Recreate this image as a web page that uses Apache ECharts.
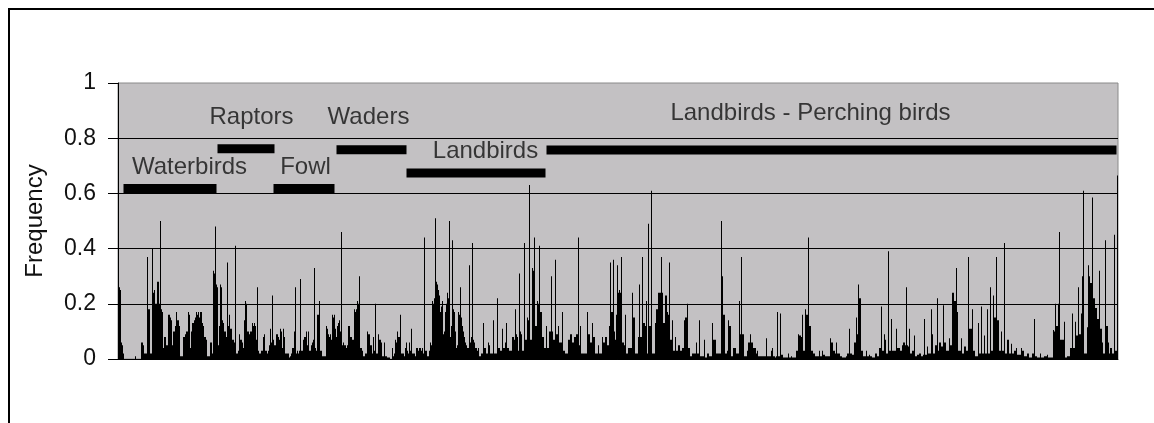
<!DOCTYPE html>
<html>
<head>
<meta charset="utf-8">
<script src="https://cdn.jsdelivr.net/npm/echarts@6/dist/echarts.min.js"></script>
<style>
html,body{margin:0;padding:0;background:#fff;}
#c{width:1154px;height:423px;}
</style>
</head>
<body>
<div id="c"></div>
<script>
// Frequency per position (one value per bar, left to right)
var freq = [
.26,.26,.25,.06,.05,.02,0,0,0,0,
0,0,0,0,0,0,0,.01,0,0,
0,0,0,.06,.06,.05,.02,.02,.02,.37,
.18,.18,.02,.02,.40,.24,.25,.20,.20,.28,
.28,.20,.50,.18,.17,.04,.08,.08,.05,.05,
.16,.16,.15,.14,.05,.10,.10,.12,.17,.14,
.14,.12,.01,.01,.01,.08,.08,.09,.10,.10,
.17,.16,.04,.10,.13,.13,.14,.15,.17,.16,
.17,.15,.17,.17,.13,.12,.08,.08,.07,.01,
.01,.01,.06,.06,.02,.32,.31,.48,.27,.26,
.05,.12,.27,.26,.14,.13,.10,.10,.08,.35,
.12,.16,.11,.11,.07,.07,.06,.41,.02,.02,
.03,.09,.07,.07,.06,.04,.14,.21,.20,.10,
.10,.09,.10,.10,.13,.12,.13,.12,.07,.26,
.03,.02,.02,.03,.03,.08,.09,.03,.03,.02,
.03,.05,.11,.06,.23,.07,.05,.05,.09,.09,
.08,.07,.11,.10,.04,.11,.08,.02,.02,.02,
.02,.005,.01,.02,.04,.04,.10,.26,.02,.03,
.02,.03,.29,.03,.03,.07,.08,.08,.10,.05,
.10,.03,.03,.05,.06,.07,.33,.04,.03,.16,
.16,.21,.03,.03,.01,.01,.01,.01,.12,.11,
.09,.08,.09,.07,.16,.15,.16,.11,.08,.12,
.13,.14,.10,.46,.05,.06,.05,.05,.04,.05,
.12,.12,.08,.08,.07,.07,.18,.17,.18,.21,
.20,.30,.04,.04,.03,.01,.01,.02,.02,.10,
.09,.09,.05,.05,.02,.08,.03,.20,.02,.02,
.09,.07,.07,.06,.01,.01,.06,.01,.01,.005,
.005,.005,0,0,.04,.01,.02,.07,.06,.10,
.08,.08,.16,.02,.02,.02,.01,.04,.06,.03,
.02,.06,.03,.11,.02,.02,.02,.01,.04,.04,
.03,.04,.04,.03,.04,.02,.44,.03,.03,.01,
.01,.03,.06,.05,.21,.20,.22,.51,.28,.27,
.25,.23,.17,.19,.21,.09,.10,.17,.20,.24,
.22,.50,.08,.12,.43,.18,.17,.10,.04,.05,
.17,.16,.26,.15,.12,.10,.08,.06,.05,.04,
.04,.34,.06,.08,.42,.07,.06,.04,.04,.03,
.04,.01,.01,.02,.02,.13,.04,.04,.02,.02,
.06,.05,.02,.02,.02,.14,.02,.02,.02,.22,
.04,.04,.03,.03,.11,.04,.04,.06,.13,.04,
.04,.03,.03,.03,.08,.08,.07,.18,.09,.08,
.03,.31,.10,.09,.03,.03,.42,.07,.07,.15,
.14,.63,.07,.07,.33,.32,.44,.12,.12,.21,
.20,.41,.17,.17,.08,.08,.04,.04,.12,.04,
.04,.10,.10,.30,.10,.07,.07,.36,.09,.09,
.12,.06,.06,.06,.17,.03,.03,.02,.02,.02,
.07,.07,.09,.09,.06,.06,.08,.08,.09,.09,
.44,.05,.12,.02,.02,.02,.02,.02,.02,.17,
.09,.09,.06,.06,.13,.08,.08,.02,.02,.02,
.05,.02,.02,.02,.08,.06,.06,.08,.08,.05,
.05,.12,.35,.17,.17,.36,.10,.07,.16,.34,
.24,.25,.24,.37,.06,.06,.05,.16,.02,.02,
.04,.04,.04,.04,.24,.15,.15,.02,.02,.02,
.08,.27,.08,.08,.37,.13,.13,.12,.21,.02,
.49,.12,.12,.61,.02,.02,.02,.13,.18,.18,
.24,.24,.24,.37,.24,.13,.13,.23,.23,.17,
.16,.35,.07,.07,.14,.03,.03,.08,.03,.03,
.05,.05,.03,.03,.04,.04,.14,.15,.15,.20,
.04,.04,.01,.01,.02,.02,.02,.02,.06,.02,
.02,.14,.01,.01,.01,.01,.07,.005,.005,.02,
.02,.01,.01,.01,.13,.07,.07,.07,.02,.02,
.02,.02,.02,.50,.30,.16,.16,.02,.02,.03,
.14,.12,.12,.01,.01,.04,.04,.04,.02,.02,
.02,.21,.09,.37,.09,.09,.01,.01,.01,.03,
.06,.06,.09,.06,.06,.04,.04,.04,.02,.03,
.01,.01,.01,.01,.01,.01,.01,.01,.075,.01,
.01,.01,.01,.03,.04,.01,.01,.005,.01,.17,
.01,.01,.165,.015,.015,.005,.005,.005,.005,.005,
.02,.005,.005,.01,.005,.005,.005,.005,.03,.03,
.09,.085,.085,.08,.16,.03,.03,.18,.16,.16,
.44,.12,.12,.03,.03,.02,.02,.01,.01,.01,
.01,.03,.01,.01,.03,.015,.015,.01,.01,.01,
.01,.01,.075,.06,.06,.03,.03,.02,.06,.02,
.02,.02,.01,.01,.005,.005,.005,.005,.01,.02,
.02,.11,.02,.02,.015,.015,.06,.06,.15,.09,
.27,.22,.22,.03,.03,.01,.01,.01,.03,.01,
.01,.015,.01,.01,.005,.005,.005,.02,.02,.01,
.01,.04,.04,.19,.03,.03,.09,.07,.02,.02,
.39,.03,.03,.145,.03,.03,.03,.03,.11,.04,
.04,.04,.03,.03,.05,.06,.06,.05,.26,.05,
.045,.11,.02,.02,.03,.03,.085,.01,.01,.015,
.015,.02,.02,.01,.01,.015,.145,.015,.015,.045,
.02,.02,.02,.18,.09,.02,.02,.05,.05,.22,
.03,.06,.06,.045,.045,.195,.06,.06,.03,.03,
.03,.075,.05,.05,.24,.24,.21,.21,.33,.17,
.03,.03,.03,.075,.02,.02,.045,.045,.03,.03,
.37,.11,.11,.11,.18,.03,.03,.01,.01,.01,
.13,.02,.02,.19,.02,.02,.085,.02,.02,.18,
.02,.02,.26,.03,.03,.23,.15,.15,.37,.14,
.14,.03,.03,.10,.03,.03,.42,.02,.02,.07,
.07,.02,.02,.055,.02,.02,.03,.03,.04,.015,
.015,.015,.015,.04,.03,.03,.01,.01,.01,.02,
.02,.005,.005,.005,.02,.02,.145,.01,.01,.005,
.005,.005,.02,.005,.005,.005,.01,.01,.01,.015,
.005,.005,.005,.005,.005,.105,.10,.20,.12,.12,
.20,.46,.07,.07,.07,.07,.135,.005,.005,.01,
.01,.01,.04,.04,.165,.04,.04,.135,.085,.085,
.26,.09,.09,.165,.30,.61,.02,.02,.02,.115,
.34,.30,.275,.275,.585,.22,.22,.185,.185,.145,
.145,.32,.11,.11,.06,.02,.02,.43,.12,.12,
.06,.02,.04,.04,.02,.02,.45,.03,.03,.665
];
var positions = freq.map(function (v, i) { return String(i + 1); });

// Bird group bands: [name, first position index, last position index, band level]
var groupNames  = ['Waterbirds', 'Raptors', 'Fowl', 'Waders', 'Landbirds', 'Landbirds - Perching birds'];
var groupStart  = [5, 99, 155, 218, 288, 428];
var groupEnd    = [98, 156, 216, 288, 427, 998];
var groupLevel  = [0.618, 0.762, 0.618, 0.758, 0.674, 0.757];
// Group label anchor (position index, level)
var labelPos    = [71, 133, 187, 250, 367, 692];
var labelLevel  = [0.696, 0.877, 0.696, 0.877, 0.754, 0.891];

var yTicks = [0, 0.2, 0.4, 0.6, 0.8, 1];

var FONT = 'Liberation Sans, Arial, sans-serif';

var series = [{
  type: 'bar',
  data: freq,
  barCategoryGap: '0%',
  barGap: '0%',
  itemStyle: { color: '#000' },
  silent: true,
  animation: false,
  z: 2
}];
groupNames.forEach(function (n, k) {
  series.push({
    type: 'line',
    data: [[groupStart[k], groupLevel[k]], [groupEnd[k], groupLevel[k]]],
    symbol: 'none',
    lineStyle: { color: '#000', width: 9, cap: 'butt' },
    animation: false,
    silent: true,
    z: 3
  });
});
series.push({
  type: 'scatter',
  symbolSize: 0,
  data: groupNames.map(function (n, k) { return { name: n, value: [labelPos[k], labelLevel[k]] }; }),
  label: {
    show: true,
    position: 'inside',
    formatter: '{b}',
    fontFamily: FONT,
    fontSize: 24,
    color: '#111'
  },
  animation: false,
  silent: true,
  z: 4
});

var chart = echarts.init(document.getElementById('c'), null, { renderer: 'canvas' });
chart.setOption({
  backgroundColor: '#ffffff',
  animation: false,
  graphic: [{
    type: 'rect',
    shape: { x: 9, y: 9, width: 1200, height: 500 },
    style: { fill: 'none', stroke: '#000', lineWidth: 2 },
    silent: true
  }],
  grid: {
    left: 118, right: 36, top: 83, bottom: 64,
    show: true, backgroundColor: '#c3c1c3', borderColor: '#8a8a8a', borderWidth: 1
  },
  xAxis: {
    type: 'category',
    data: positions,
    axisLine: { show: true, lineStyle: { color: '#000', width: 1 } },
    axisTick: { show: false },
    axisLabel: { show: false },
    splitLine: { show: false }
  },
  yAxis: {
    type: 'value',
    min: 0, max: 1, interval: 0.2,
    name: 'Frequency',
    nameLocation: 'middle',
    nameGap: 71,
    nameTextStyle: { fontFamily: FONT, fontSize: 24, color: '#111' },
    axisLine: { show: true, lineStyle: { color: '#000', width: 1 } },
    axisTick: { show: true, inside: false, length: 10, lineStyle: { color: '#000' } },
    axisLabel: {
      margin: 22,
      fontFamily: FONT,
      fontSize: 23,
      color: '#111',
      formatter: function (v) {
        var t = yTicks.filter(function (x) { return Math.abs(x - v) < 1e-9; });
        return t.length ? String(t[0]) : '';
      }
    },
    splitLine: { show: true, showMinLine: false, showMaxLine: false, lineStyle: { color: '#000', width: 1 } }
  },
  series: series
});
</script>
</body>
</html>
